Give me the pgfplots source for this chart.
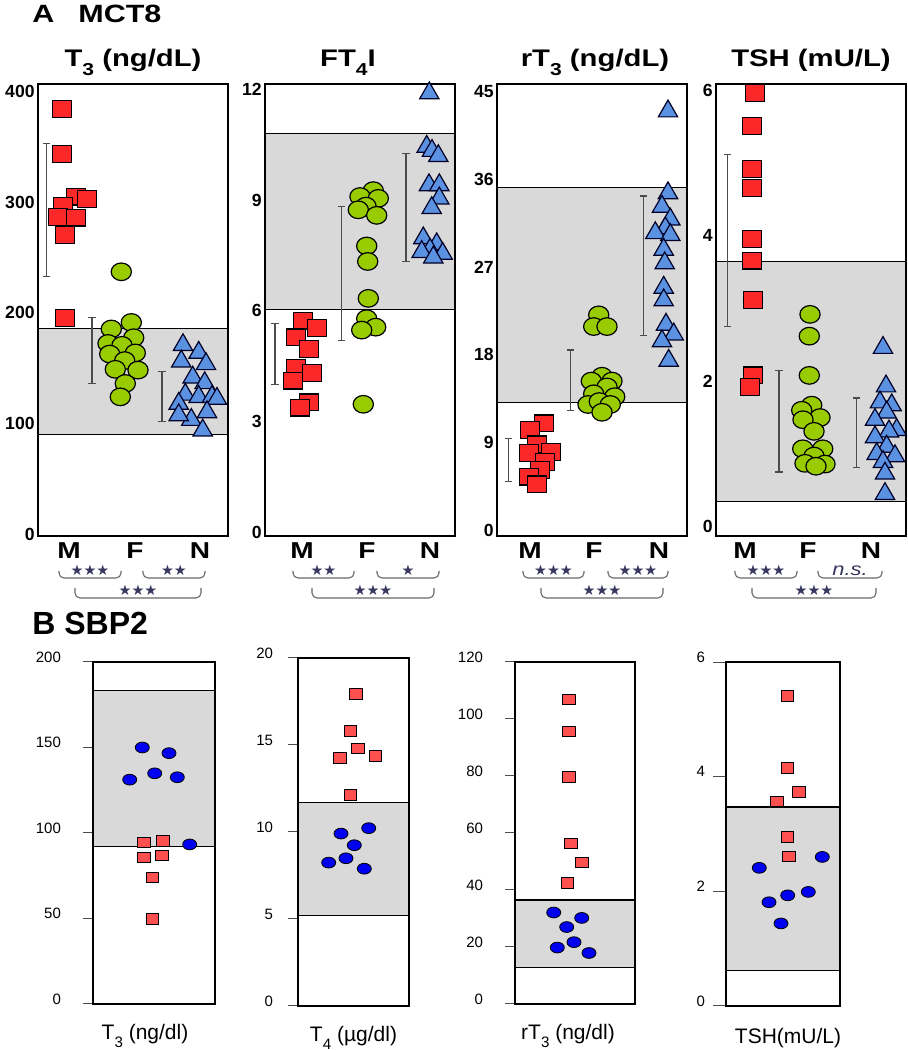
\documentclass[border=0pt]{standalone}
\usepackage{pgfplots}
\pgfplotsset{compat=1.18}
\usepackage{fontspec}
\setmainfont{Liberation Sans}
\newfontfamily\Afont{Liberation Sans}[FakeStretch=1.22]
\newfontfamily\symfont{DejaVu Sans}
\definecolor{redA}{RGB}{250,40,40}
\definecolor{greenA}{RGB}{153,204,0}
\definecolor{blueA}{RGB}{90,145,225}
\definecolor{band}{RGB}{217,217,217}
\definecolor{redB}{RGB}{255,80,80}
\definecolor{blueB}{RGB}{0,0,240}
\definecolor{starc}{RGB}{55,55,95}
\definecolor{brkc}{RGB}{105,105,105}
\newcommand\sub[1]{\raisebox{-0.35em}{\scalebox{0.72}{#1}}}
\newcommand\stars[1]{{\symfont\fontsize{7.2}{7}\selectfont\color{starc}#1}}
\pgfplotsset{
  Astyle/.style={scale only axis, width=95pt, height=226pt, xmin=0, xmax=190,
    axis line style={line width=0.7pt}, major tick length=0pt,
    yticklabel style={font=\bfseries\fontsize{8.8}{10}\selectfont, inner sep=1.5pt},
    xticklabel style={font=\Afont\bfseries\fontsize{11.5}{12}\selectfont},
    xticklabels={M,F,N},
    /pgf/number format/assume math mode=true, clip=false},
  Ared/.style={only marks, mark=square*, mark size=4.2pt,
    mark options={fill=redA, draw=black, line width=0.6pt, xscale=1.12}},
  Agreen/.style={only marks, mark=*, mark size=4.4pt,
    mark options={fill=greenA, draw=black, line width=0.6pt, xscale=1.15}},
  Ablue/.style={only marks, mark=triangle*, mark size=5.6pt,
    mark options={fill=blueA, draw=black!85!blue, line width=0.6pt}},
  Aband/.style={fill=band, draw=black, line width=0.6pt},
  Aerr/.style={draw=none, mark=none, error bars/.cd, y dir=both, y explicit,
    error bar style={line width=0.6pt, draw=black!70},
    error mark options={rotate=90, mark size=1.8pt, line width=0.6pt, draw=black!70}},
  Bstyle/.style={scale only axis, axis line style={line width=0.6pt}, xmin=0, xtick=\empty,
    ymin=0, tick align=outside, ytick pos=left, major tick length=5pt,
    ytick style={line width=0.5pt, draw=black!70},
    yticklabel style={font=\fontsize{7.5}{9}\selectfont, yshift=2.5pt},
    /pgf/number format/assume math mode=true, clip=false,
    xlabel style={font=\fontsize{10.5}{12}\selectfont, anchor=center,
      at={(axis description cs:0.5,0)}, yshift=-16pt}},
  Bred/.style={only marks, mark=square*, mark size=2.67pt,
    mark options={fill=redB, draw=none, xscale=1.19}},
  Bblue/.style={only marks, mark=*, mark size=2.7pt,
    mark options={fill=blueB, draw=none, xscale=1.3}},
  Bband/.style={fill=band, draw=black, line width=0.6pt},
}
\tikzset{brk/.style={draw=brkc, line width=0.55pt, rounded corners=2.5pt}}
\newcommand\brA[3]{\draw[brk] (#1pt,239.5pt) -- (#1pt,236pt) -- (#2pt,236pt) -- (#2pt,239.5pt);
  \node[inner sep=0pt] at ({(#1pt+#2pt)/2},239.8pt) {#3};}
\newcommand\brB[3]{\draw[brk] (#1pt,231pt) -- (#1pt,226pt) -- (#2pt,226pt) -- (#2pt,231pt);
  \node[inner sep=0pt] at ({(#1pt+#2pt)/2},230pt) {#3};}
\begin{document}
\begin{tikzpicture}
\useasboundingbox (0,0) rectangle (454pt,525pt);
% ---------- Panel A titles
\node[anchor=base west, inner sep=0pt, font=\Afont\bfseries\fontsize{12.5}{14}\selectfont] at (16pt,513.5pt) {A};
\node[anchor=base west, inner sep=0pt, font=\Afont\bfseries\fontsize{12.5}{14}\selectfont] at (39pt,513.5pt) {MCT8};
\begin{scope}[every node/.style={anchor=base, inner sep=0pt, font=\Afont\bfseries\fontsize{12}{14}\selectfont}]
\node at (66.5pt,491.5pt) {T\sub{3} (ng/dL)};
\node at (174pt,491.5pt) {FT\sub{4}I};
\node at (297.5pt,491.5pt) {rT\sub{3} (ng/dL)};
\node at (405.5pt,491.5pt) {TSH (mU/L)};
\end{scope}
% ---------- A: T3
\begin{axis}[Astyle, at={(19pt,257pt)}, anchor=south west, ymin=-1.7, ymax=407,
  ytick={0,100,200,300,400}, xtick={31,97,162}]
\addplot[Aband] coordinates {(0,90.3) (190,90.3) (190,186.2) (0,186.2)} -- cycle;
\addplot[Aerr] coordinates {(8.7,293) +- (0,60) (54,166) +- (0,30) (124,124.5) +- (0,22.5)};
\addplot[Ared] coordinates {(24,384.5) (24,343.8) (38,305.2) (49,302.8) (24.7,296.6) (20,286.9) (38.3,286.2) (26.7,270.7) (27.3,195.5)};
\addplot[Agreen] coordinates {(83.3,237.2) (93.3,191.4) (73.3,185.5) (95.7,177.6) (70,172.4) (84,170.7) (97.3,163.8) (71.7,162.8) (86.7,156.9) (77.3,149) (100,148.3) (87.3,136.2) (82.3,124.1)};
\addplot[Ablue] coordinates {(145,171) (160.7,164.1) (143.3,156.2) (168,153.8) (154.7,141.7) (166.7,136.6) (147.3,126.2) (160.7,124.1) (174,124.1) (179,122.4) (140.7,117.9) (169,110.3) (153.3,103.4) (140.7,107.6) (164.7,93.8)};
\end{axis}
% ---------- A: FT4I
\begin{axis}[Astyle, at={(132.5pt,257pt)}, anchor=south west, ymin=-0.1, ymax=12.15,
  ytick={0,3,6,9,12}, xtick={37,102,165}]
\addplot[Aband] coordinates {(0,6.03) (190,6.03) (190,10.8) (0,10.8)} -- cycle;
\addplot[Aerr] coordinates {(10,4.83) +- (0,0.83) (76.7,7.02) +- (0,1.82) (141,8.8) +- (0,1.47)};
\addplot[Ared] coordinates {(37.7,5.74) (52.3,5.53) (31,5.28) (44.3,4.97) (30.7,4.45) (47.3,4.31) (28.3,4.11) (44,3.52) (35,3.38)};
\addplot[Agreen] coordinates {(108.3,9.26) (95,9.1) (113.3,9.05) (101,8.84) (93.3,8.74) (111.7,8.59) (101.7,7.76) (102.7,7.34) (103.3,6.34) (101.7,5.79) (110.7,5.56) (96.7,5.48) (98.3,3.47)};
\addplot[Ablue] coordinates {(164.3,11.9) (161.7,10.45) (167,10.34) (173.3,10.2) (164,9.41) (174.3,9.41) (174.3,9.05) (166.7,8.79) (158.3,7.97) (171.7,7.81) (165,7.66) (177.7,7.55) (156.7,7.6) (168.3,7.45)};
\end{axis}
% ---------- A: rT3
\begin{axis}[Astyle, at={(248.5pt,257pt)}, anchor=south west, ymin=-0.6, ymax=45.8,
  ytick={0,9,18,27,36,45}, xtick={33,97,162}]
\addplot[Aband] coordinates {(0,13.1) (190,13.1) (190,35.2) (0,35.2)} -- cycle;
\addplot[Aerr] coordinates {(11.7,7.2) +- (0,2.2) (73.3,15.4) +- (0,3.1) (146.7,27.15) +- (0,7.15)};
\addplot[Ared] coordinates {(46.7,10.95) (33.3,10.3) (40,8.8) (32.3,7.9) (54.3,8.0) (48.3,7.0) (43.3,6.2) (32.3,5.5) (40,4.7)};
\addplot[Agreen] coordinates {(101.7,22.1) (96.7,20.9) (110,20.9) (105,15.8) (94.3,15.3) (115,15.3) (110,14.7) (96.7,14.0) (117.7,13.7) (91,12.9) (102.3,13.2) (113.3,12.9) (105,12.1)};
\addplot[Ablue] coordinates {(171,43.0) (171,34.6) (165,33.2) (173.3,31.9) (168.3,31.0) (158.3,30.5) (173.3,30.3) (166.7,28.8) (167.7,27.4) (166.7,24.9) (166.7,23.6) (169,21.1) (176.7,20.1) (165,19.4) (171.7,17.4)};
\end{axis}
% ---------- A: TSH
\begin{axis}[Astyle, at={(358pt,257pt)}, anchor=south west, ymin=-0.13, ymax=6.09,
  ytick={0,2,4,6}, xtick={29,92,155}]
\addplot[Aband] coordinates {(0,0.35) (190,0.35) (190,3.65) (0,3.65)} -- cycle;
\addplot[Aerr] coordinates {(11.7,3.935) +- (0,1.185) (63,1.45) +- (0,0.7) (140.7,1.29) +- (0,0.48)};
\addplot[Ared] coordinates {(39,5.97) (35.7,5.51) (35.7,4.92) (35.7,4.66) (35.7,3.96) (35.7,3.66) (37.3,3.12) (37.3,2.08) (34,1.92)};
\addplot[Agreen] coordinates {(94,2.92) (93.3,2.62) (93.3,2.08) (95.7,1.67) (85.7,1.60) (104,1.50) (87,1.47) (98,1.31) (86.7,1.07) (106.7,1.07) (98,0.97) (89,0.87) (109,0.86) (100,0.83)};
\addplot[Ablue] coordinates {(167,2.46) (170,1.93) (164,1.71) (175.7,1.67) (170.7,1.57) (159,1.47) (180.7,1.33) (173,1.31) (159,1.23) (170.7,1.10) (160.7,1.00) (179,0.97) (167,0.89) (169,0.73) (169,0.45)};
\end{axis}
% ---------- significance brackets
\brA{29.5}{60.5}{\stars{★★★}}
\brA{71.5}{102.5}{\stars{★★}}
\brB{37.5}{100.5}{\stars{★★★}}
\brA{146.5}{177}{\stars{★★}}
\brA{188.5}{219.5}{\stars{★}}
\brB{156}{217}{\stars{★★★}}
\brA{261.5}{292}{\stars{★★★}}
\brA{304}{334}{\stars{★★★}}
\brB{270.5}{331.5}{\stars{★★★}}
\brA{367.5}{398.5}{\stars{★★★}}
\brA{409}{441}{{\Afont\itshape\fontsize{9}{9}\selectfont\color{starc}n.s.}}
\brB{376}{438}{\stars{★★★}}
% ---------- Panel B
\node[anchor=base west, inner sep=0pt, font=\bfseries\fontsize{16}{18}\selectfont] at (16pt,207.5pt) {B SBP2};
\begin{axis}[Bstyle, width=61pt, height=171pt, at={(46.5pt,23pt)}, anchor=south west,
  xmax=122, ymax=200, ytick={0,50,100,150,200},
  yticklabel style={xshift=-7.5pt}, xlabel={T\sub{3} (ng/dl)}, xlabel style={xshift=-4.5pt}]
\addplot[Bband] coordinates {(0,91.9) (122,91.9) (122,183.3) (0,183.3)} -- cycle;
\addplot[Bblue] coordinates {(49.3,150) (76,146.7) (61.7,134.9) (36.7,131.2) (84.3,132.6) (96.7,93.3)};
\addplot[Bred] coordinates {(51,94.5) (69.7,95.4) (51,85.8) (68.7,86.9) (59.3,74.1) (59.3,49.7)};
\end{axis}
\begin{axis}[Bstyle, width=55.5pt, height=174pt, at={(149pt,22pt)}, anchor=south west,
  xmax=111, ymax=20, ytick={0,5,10,15,20},
  yticklabel style={xshift=-4pt}, xlabel={T\sub{4} (µg/dl)}]
\addplot[Bband] coordinates {(0,5.18) (111,5.18) (111,11.69) (0,11.69)} -- cycle;
\addplot[Bred] coordinates {(58,17.94) (52.3,15.82) (59.7,14.8) (41.7,14.26) (77.3,14.36) (52.3,12.13)};
\addplot[Bblue] coordinates {(70.7,10.22) (43,9.91) (56.3,9.24) (30.7,8.24) (48,8.49) (66.3,7.89)};
\end{axis}
\begin{axis}[Bstyle, width=60pt, height=171pt, at={(257.5pt,23pt)}, anchor=south west,
  xmax=120, ymax=120, ytick={0,20,40,60,80,100,120},
  yticklabel style={xshift=-7.5pt}, xlabel={rT\sub{3} (ng/dl)}, xlabel style={xshift=-3.5pt}]
\addplot[Bband] coordinates {(0,12.8) (120,12.8) (120,36.5) (0,36.5)} -- cycle;
\addplot[Bred] coordinates {(54,106.9) (54,95.7) (54,79.7) (56,56.3) (66.7,49.7) (52.3,42.4)};
\addplot[Bblue] coordinates {(38.7,32.1) (66.7,30.2) (51.7,27) (59,21.7) (42.3,19.8) (74,17.9)};
\end{axis}
\begin{axis}[Bstyle, width=57pt, height=172pt, at={(363pt,22pt)}, anchor=south west,
  xmax=114, ymax=6, ytick={0,2,4,6}, major tick length=6.5pt,
  yticklabel style={xshift=-0.5pt}, xlabel={TSH(mU/L)}, xlabel style={xshift=2.5pt}]
\addplot[Bband] coordinates {(0,0.62) (114,0.62) (114,3.47) (0,3.47)} -- cycle;
\addplot[Bred] coordinates {(61.3,5.41) (61.3,4.15) (73,3.73) (50.7,3.57) (61.3,2.95) (63,2.61)};
\addplot[Bblue] coordinates {(96.3,2.6) (33.3,2.41) (82.3,1.99) (61.7,1.93) (43,1.81) (55,1.44)};
\end{axis}
\end{tikzpicture}
\end{document}
